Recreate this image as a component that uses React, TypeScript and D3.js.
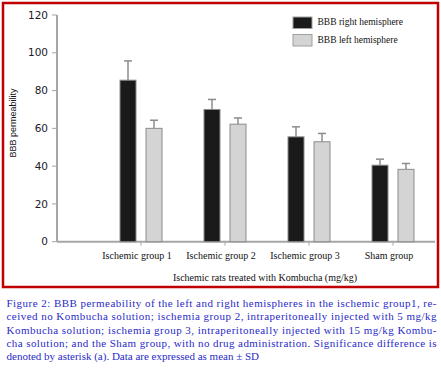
import { useEffect, useRef } from 'react';
import * as d3 from 'd3';

const categories = ['Ischemic group 1', 'Ischemic group 2', 'Ischemic group 3', 'Sham group'];
const seriesNames = ['BBB right hemisphere', 'BBB left hemisphere'];
const rightValues = [85.5, 70, 55.5, 40.5];
const rightErrors = [10.2, 5.3, 5.3, 3.2];
const leftValues = [60, 62.2, 52.9, 38.3];
const leftErrors = [4.3, 3.3, 4.4, 3.1];
const yTicks = [0, 20, 40, 60, 80, 100, 120];

const captionLines = [
  'Figure 2: BBB permeability of the left and right hemispheres in the ischemic group1, re-',
  'ceived no Kombucha solution; ischemia group 2, intraperitoneally injected with 5 mg/kg',
  'Kombucha solution; ischemia group 3, intraperitoneally injected with 15 mg/kg Kombu-',
  'cha solution; and the Sham group, with no drug administration. Significance difference is',
  'denoted by asterisk (a). Data are expressed as mean \u00b1 SD',
];

const W = 441;
const H = 368;
const axisX = 57;
const axisRight = 435;
const plotTop = 15;
const plotBottom = 241.7;

const serif = '"Liberation Serif", "Times New Roman", serif';
const sans = '"DejaVu Sans", Verdana, sans-serif';

const App = () => {
  const ref = useRef<SVGSVGElement>(null);

  useEffect(() => {
    const svg = d3.select(ref.current);
    svg.selectAll('*').remove();

    const y = d3.scaleLinear().domain([0, 120]).range([plotBottom, plotTop]);
    const x = d3.scaleBand().domain(categories).range([axisX + 42, axisRight]).padding(0);
    // two bars of 16px with a 10px gap inside each group
    const sub = d3.scaleBand().domain(seriesNames).range([-21, 21]).paddingInner(10 / 26).paddingOuter(0);

    // frame
    svg
      .append('rect')
      .attr('x', 3)
      .attr('y', 3)
      .attr('width', 435)
      .attr('height', 284)
      .attr('fill', 'white')
      .attr('stroke', '#c00000')
      .attr('stroke-width', 2.5);

    // y axis
    const yAxis = svg.append('g');
    yAxis
      .append('line')
      .attr('x1', axisX)
      .attr('x2', axisX)
      .attr('y1', y(120))
      .attr('y2', y(0))
      .attr('stroke', '#a6a6a6')
      .attr('stroke-width', 2);
    yTicks.forEach((t) => {
      yAxis
        .append('line')
        .attr('x1', axisX - 5)
        .attr('x2', axisX)
        .attr('y1', y(t))
        .attr('y2', y(t))
        .attr('stroke', '#a6a6a6')
        .attr('stroke-width', 1);
      yAxis
        .append('text')
        .attr('x', 48)
        .attr('y', y(t))
        .attr('dy', '0.35em')
        .attr('text-anchor', 'end')
        .style('font-family', sans)
        .style('font-size', '10.5px')
        .attr('fill', '#1a1a2a')
        .text(t);
    });

    // x axis
    svg
      .append('line')
      .attr('x1', axisX)
      .attr('x2', axisRight)
      .attr('y1', y(0))
      .attr('y2', y(0))
      .attr('stroke', '#a6a6a6')
      .attr('stroke-width', 2);

    categories.forEach((c) => {
      const cx = (x(c) as number) + x.bandwidth() / 2;
      svg
        .append('line')
        .attr('x1', cx)
        .attr('x2', cx)
        .attr('y1', y(0))
        .attr('y2', y(0) + 4)
        .attr('stroke', '#a6a6a6')
        .attr('stroke-width', 1);
      svg
        .append('text')
        .attr('x', cx - 4)
        .attr('y', 259)
        .attr('text-anchor', 'middle')
        .style('font-family', serif)
        .style('font-size', '10px')
        .attr('fill', '#111')
        .text(c);
    });

    // bars
    const series = [
      { name: seriesNames[0], values: rightValues, errors: rightErrors, fill: '#1a1a1a' },
      { name: seriesNames[1], values: leftValues, errors: leftErrors, fill: '#d4d4d4' },
    ];

    series.forEach((s) => {
      const g = svg.append('g');
      categories.forEach((c, i) => {
        const bx = (x(c) as number) + x.bandwidth() / 2 + (sub(s.name) as number);
        const bw = sub.bandwidth();
        const cx = bx + bw / 2;
        const top = y(s.values[i] + s.errors[i]);
        g.append('line')
          .attr('x1', cx)
          .attr('x2', cx)
          .attr('y1', top)
          .attr('y2', y(s.values[i]))
          .attr('stroke', '#8c8c8c')
          .attr('stroke-width', 1.5);
        g.append('line')
          .attr('x1', cx - 4)
          .attr('x2', cx + 4)
          .attr('y1', top)
          .attr('y2', top)
          .attr('stroke', '#8c8c8c')
          .attr('stroke-width', 1.5);
        g.append('rect')
          .attr('x', bx)
          .attr('y', y(s.values[i]))
          .attr('width', bw)
          .attr('height', y(0) - y(s.values[i]))
          .attr('fill', s.fill)
          .attr('stroke', '#8c8c8c')
          .attr('stroke-width', 1);
      });
    });

    // legend
    series.forEach((s, i) => {
      const ly = 17 + i * 17.5;
      svg
        .append('rect')
        .attr('x', 293)
        .attr('y', ly)
        .attr('width', 19)
        .attr('height', 11.5)
        .attr('fill', s.fill)
        .attr('stroke', '#a0a0a0')
        .attr('stroke-width', 1);
      svg
        .append('text')
        .attr('x', 317.5)
        .attr('y', ly + 8)
        .style('font-family', serif)
        .style('font-size', '9.5px')
        .attr('fill', '#111')
        .text(s.name);
    });

    // axis titles
    svg
      .append('text')
      .attr('transform', `translate(16,123) rotate(-90)`)
      .attr('text-anchor', 'middle')
      .style('font-family', '"Liberation Sans", Arial, sans-serif')
      .style('font-size', '9px')
      .attr('fill', '#111')
      .text('BBB permeability');

    svg
      .append('text')
      .attr('x', 265)
      .attr('y', 281)
      .attr('text-anchor', 'middle')
      .style('font-family', serif)
      .style('font-size', '10px')
      .attr('fill', '#111')
      .text('Ischemic rats treated with Kombucha (mg/kg)');

    // caption
    captionLines.forEach((line, i) => {
      const t = svg
        .append('text')
        .attr('x', 6.5)
        .attr('y', 307 + i * 13.3)
        .style('font-family', serif)
        .style('font-size', '11px')
        .attr('fill', '#2a2ac8')
        .text(line);
      if (i < captionLines.length - 1) {
        t.attr('textLength', 430).attr('lengthAdjust', 'spacing');
      }
    });
  }, []);

  return (
    <svg
      ref={ref}
      width={W}
      height={H}
      style={{ position: 'absolute', left: 0, top: 0, background: 'white' }}
    />
  );
};

export default App;
